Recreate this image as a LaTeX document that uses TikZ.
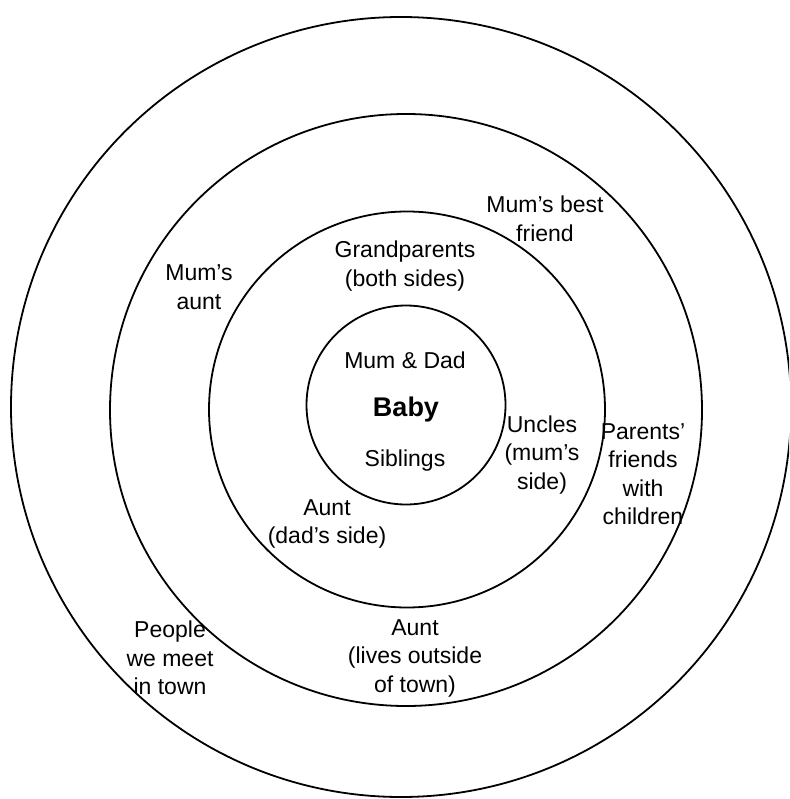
\documentclass[tikz,border=0pt]{standalone}
\usepackage{fontspec}
\setmainfont{Liberation Sans}
\begin{document}
\begin{tikzpicture}[x=1pt,y=-1pt,
  ring/.style={draw=black,line width=1.8pt},
  lbl/.style={align=center,inner sep=0pt,font=\fontsize{23}{28.5}\selectfont}]
\useasboundingbox (0,0) rectangle (789,799);
\clip (0,0) rectangle (789,799);
\fill[white] (0,0) rectangle (789,799);
\draw[ring] (401,407) circle[radius=390];
\draw[ring] (406,410) circle[radius=296];
\draw[ring] (407,409.5) circle[radius=198];
\draw[ring] (406,405) circle[radius=99.5];
\node[lbl] (bestfriend) at (545,219) {Mum’s best\\friend};
\node[lbl] (grand) at (405,266) {Grandparents\\(both sides)};
\node[lbl] (mumaunt) at (199,287) {Mum’s\\aunt};
\node[lbl] (parents) at (405,360) {Mum \& Dad};
\node[lbl,font=\fontsize{27}{30}\selectfont\bfseries] (baby) at (406,410) {Baby};
\node[lbl] (siblings) at (405,461) {Siblings};
\node[lbl] (uncles) at (542,455) {Uncles\\(mum’s\\side)};
\node[lbl] (friends) at (643,474) {Parents’\\friends\\with\\children};
\node[lbl] (auntdad) at (327,524) {Aunt\\(dad’s side)};
\node[lbl] (people) at (170,658) {People\\we meet\\in town};
\node[lbl] (auntout) at (415,658) {Aunt\\(lives outside\\of town)};
\end{tikzpicture}
\end{document}
